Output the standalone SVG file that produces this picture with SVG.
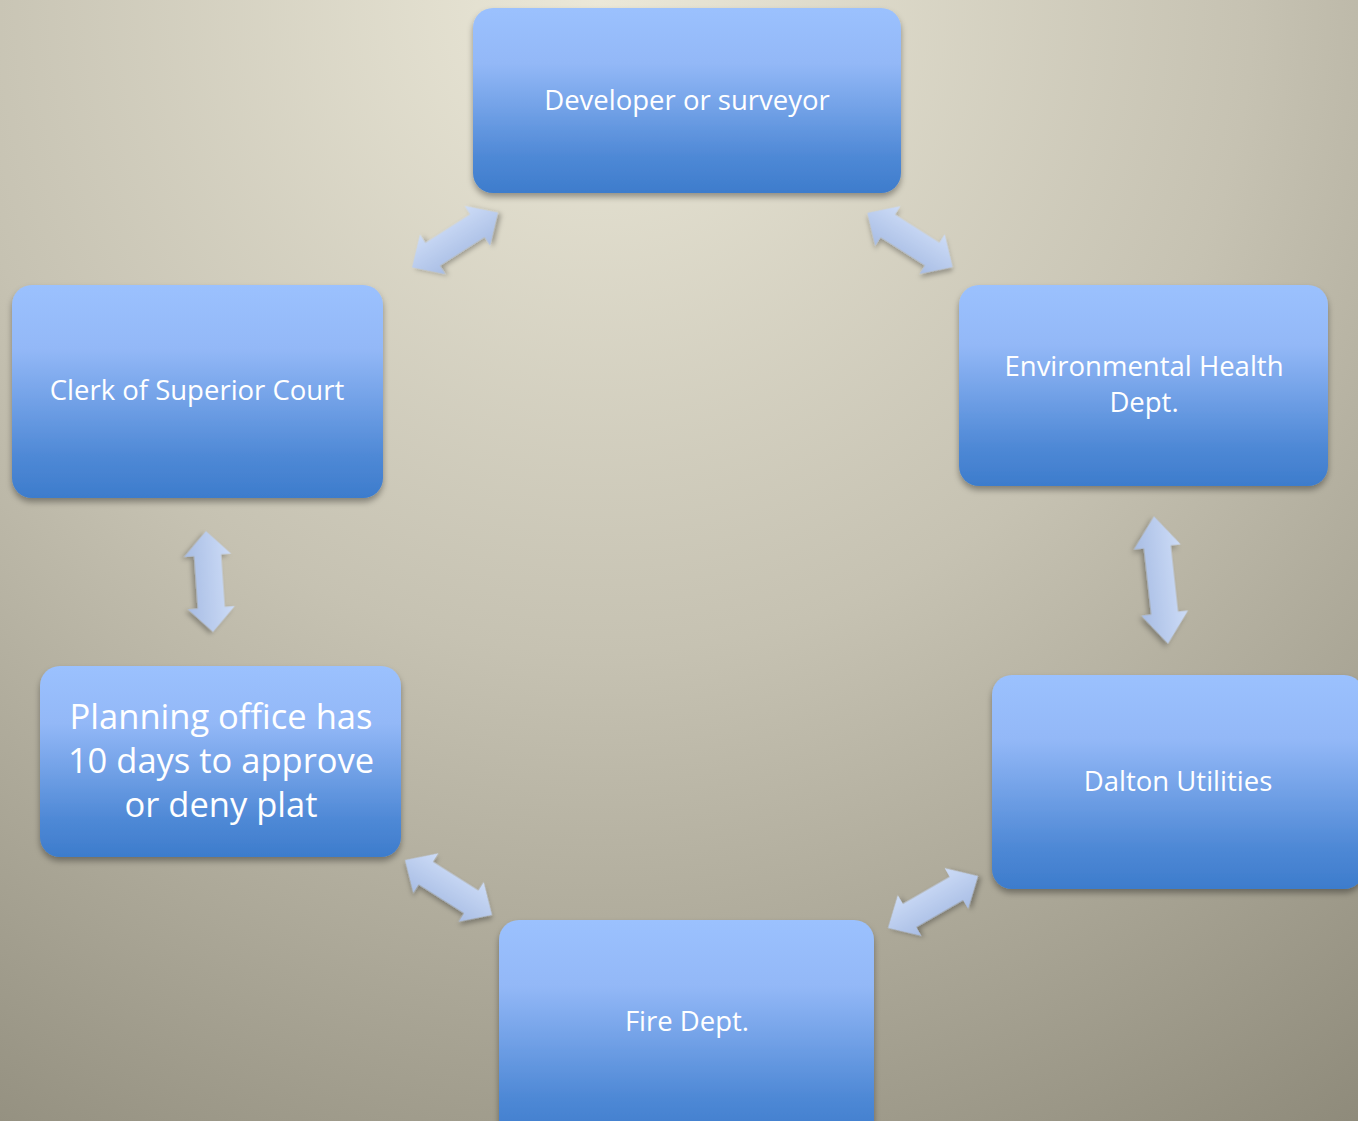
<svg xmlns="http://www.w3.org/2000/svg" width="1358" height="1121" viewBox="0 0 1358 1121">
<defs>
<radialGradient id="bg" cx="600" cy="0" r="1450" gradientUnits="userSpaceOnUse">
<stop offset="0" stop-color="#ebe8d8"/>
<stop offset="0.45" stop-color="#c6c2b2"/>
<stop offset="1" stop-color="#878373"/>
</radialGradient>
<linearGradient id="box" x1="0" y1="0" x2="0" y2="1">
<stop offset="0" stop-color="#9bc1fe"/>
<stop offset="0.3" stop-color="#93b8f7"/>
<stop offset="0.8" stop-color="#4f89d6"/>
<stop offset="1" stop-color="#3d7ccc"/>
</linearGradient>
<linearGradient id="arr" x1="0" y1="0" x2="0" y2="1">
<stop offset="0" stop-color="#cddcf7"/>
<stop offset="1" stop-color="#a8bde4"/>
</linearGradient>
<filter id="sh" x="-10%" y="-10%" width="120%" height="130%">
<feDropShadow dx="0" dy="4" stdDeviation="3" flood-color="#000" flood-opacity="0.35"/>
</filter>
<filter id="ash" x="-30%" y="-30%" width="160%" height="160%">
<feDropShadow dx="2" dy="3" stdDeviation="2.5" flood-color="#000" flood-opacity="0.3"/>
</filter>
<polygon id="dbl" points="-50,0 -26,-23.5 -26,-13.5 26,-13.5 26,-23.5 50,0 26,23.5 26,13.5 -26,13.5 -26,23.5"/>
</defs>
<style>
.node rect{fill:url(#box);filter:url(#sh)}
.node text{font-family:"Open Sans","Liberation Sans",sans-serif;fill:#ffffff;text-anchor:middle;font-size:27.5px}
.node text.big{font-size:34.5px}
.conn use{fill:url(#arr);filter:url(#ash)}
</style>
<rect width="1358" height="1121" fill="url(#bg)"/>
<g id="connectors" class="conn">
<use href="#dbl" transform="translate(455,240) rotate(-32.6) scale(1.02,1)"/>
<use href="#dbl" transform="translate(910,240) rotate(32.4) scale(1.01,1)"/>
<use href="#dbl" transform="translate(209.5,581.5) rotate(86) scale(1.01,1)"/>
<use href="#dbl" transform="translate(1161,580) rotate(83.7) scale(1.28,1)"/>
<use href="#dbl" transform="translate(448.5,887.5) rotate(32.3) scale(1.03,1)"/>
<use href="#dbl" transform="translate(933,902) rotate(-30) scale(1.04,1)"/>
</g>
<g id="developer" class="node">
<rect x="473" y="8" width="428" height="185" rx="20"/>
<text x="687" y="110">Developer or surveyor</text>
</g>
<g id="envhealth" class="node">
<rect x="959" y="285" width="369" height="201" rx="20"/>
<text x="1144" y="376">Environmental Health</text>
<text x="1144" y="412">Dept.</text>
</g>
<g id="dalton" class="node">
<rect x="992" y="675" width="372" height="214" rx="20"/>
<text x="1178" y="791">Dalton Utilities</text>
</g>
<g id="fire" class="node">
<rect x="499" y="920" width="375" height="220" rx="20"/>
<text x="687" y="1031">Fire Dept.</text>
</g>
<g id="planning" class="node">
<rect x="40" y="666" width="361" height="191" rx="20"/>
<text class="big" x="221" y="729">Planning office has</text>
<text class="big" x="221" y="773">10 days to approve</text>
<text class="big" x="221" y="817">or deny plat</text>
</g>
<g id="clerk" class="node">
<rect x="12" y="285" width="371" height="213" rx="20"/>
<text x="197" y="400">Clerk of Superior Court</text>
</g>
</svg>
